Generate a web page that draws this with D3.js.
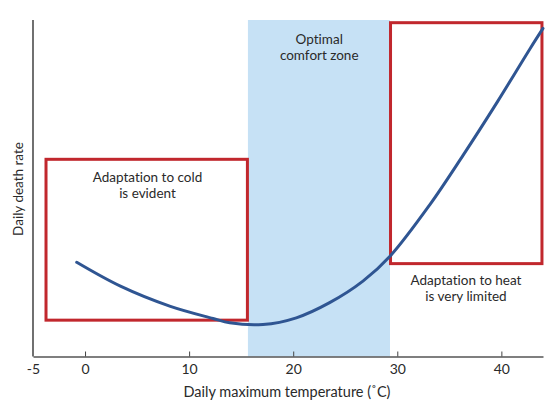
<!DOCTYPE html>
<html>
<head>
<meta charset="utf-8">
<script src="https://cdn.jsdelivr.net/npm/d3@7"></script>
<style>
  body { margin: 0; background: #fff; }
  text { font-family: Lato, "Open Sans", sans-serif; fill: #2a2a2a; font-variant-ligatures: none; }
</style>
</head>
<body>
<div id="chart"></div>
<script>
// curve (temperature in degC, death rate in arbitrary units)
var temps = [-0.8, 3.4, 8.2, 12.3, 13.9, 17.1, 20.3, 23.5, 26.7, 29.3, 33.1, 36.3, 39.6, 42.8, 44];
var rates = [28.0, 20.9, 14.9, 11.3, 10.0, 9.5, 11.5, 16.0, 22.4, 29.8, 45.0, 59.7, 75.6, 91.7, 97.5];

var xTicks = [-5, 0, 10, 20, 30, 40];

// shaded zone and boxes, in data units
var comfortZone = [15.65, 29.3];
var boxNames = ["cold", "heat"];
var boxTemps = [[-3.75, 15.6], [29.35, 43.9]];
var boxRates = [[10.8, 58.6], [27.6, 99.2]];

var labelLines = [["Adaptation to cold", "is evident"], ["Optimal", "comfort zone"], ["Adaptation to heat", "is very limited"]];

var width = 555, height = 412;
var margin = { top: 20, right: 12, bottom: 55, left: 33 };

var svg = d3.select("#chart")
  .append("svg")
  .attr("width", width)
  .attr("height", height);

var x = d3.scaleLinear()
  .domain([-5, 44])
  .range([margin.left, width - margin.right]);

var y = d3.scaleLinear()
  .domain([0, 100])
  .range([height - margin.bottom - 0.5, margin.top]);

// comfort zone
svg.append("rect")
  .attr("x", x(comfortZone[0]))
  .attr("y", y(100))
  .attr("width", x(comfortZone[1]) - x(comfortZone[0]))
  .attr("height", y(0) - y(100))
  .style("fill", "#c6e1f5");

// red boxes
svg.selectAll(".box")
  .data(boxNames)
  .enter()
  .append("rect")
  .attr("class", "box")
  .attr("x", function (d, i) { return x(boxTemps[i][0]); })
  .attr("y", function (d, i) { return y(boxRates[i][1]); })
  .attr("width", function (d, i) { return x(boxTemps[i][1]) - x(boxTemps[i][0]); })
  .attr("height", function (d, i) { return y(boxRates[i][0]) - y(boxRates[i][1]); })
  .style("fill", "none")
  .style("stroke", "#c1272d")
  .style("stroke-width", 3);

// the curve
var line = d3.line()
  .x(function (d) { return x(d[0]); })
  .y(function (d) { return y(d[1]); })
  .curve(d3.curveCatmullRom);

svg.append("path")
  .datum(d3.zip(temps, rates))
  .attr("d", line)
  .style("fill", "none")
  .style("stroke", "#2f5592")
  .style("stroke-width", 3)
  .style("stroke-linecap", "round");

// x axis
var xAxis = svg.append("g")
  .attr("transform", "translate(0," + y(0) + ")")
  .call(d3.axisBottom(x)
    .tickValues(xTicks)
    .tickFormat(function (d) { return String(d); })
    .tickSize(-5).tickPadding(8).tickSizeOuter(0));
xAxis.select(".domain").style("stroke", "#555").style("stroke-width", 1.5);
xAxis.selectAll(".tick line").style("stroke", "#444");
xAxis.selectAll("text")
  .style("font-size", "14px")
  .style("font-family", "Lato, sans-serif")
  .style("fill", "#2a2a2a");
// the first tick sits on the y axis
xAxis.selectAll(".tick")
  .filter(function (d) { return d === -5; })
  .select("line").remove();

// y axis: plain line, no ticks
svg.append("line")
  .attr("x1", x(-5))
  .attr("x2", x(-5))
  .attr("y1", y(100))
  .attr("y2", y(0))
  .style("stroke", "#111")
  .style("stroke-width", 1.2);

svg.append("text")
  .attr("x", 287)
  .attr("y", 397)
  .style("text-anchor", "middle")
  .style("font-size", "14.5px")
  .text("Daily maximum temperature (\u02DAC)");

svg.append("text")
  .attr("transform", "translate(23," + 189 + ") rotate(-90)")
  .style("text-anchor", "middle")
  .style("font-size", "13.5px")
  .text("Daily death rate");

// annotations
var labelPos = [[6, 182], [22.5, 44], [36.6, 285]];
labelLines.forEach(function (lines, i) {
  var t = svg.append("text")
    .attr("x", x(labelPos[i][0]))
    .attr("y", labelPos[i][1])
    .style("text-anchor", "middle")
    .style("font-size", "13.5px");
  lines.forEach(function (s, j) {
    t.append("tspan")
      .attr("x", x(labelPos[i][0]))
      .attr("dy", j === 0 ? 0 : 15.5)
      .text(s);
  });
});
</script>
</body>
</html>
